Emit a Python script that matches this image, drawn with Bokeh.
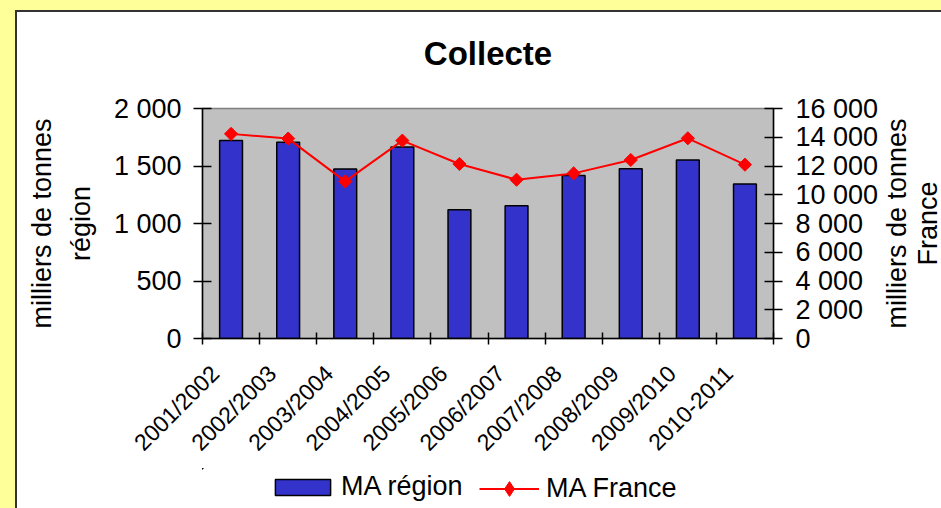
import numpy as np
from bokeh.plotting import figure
from bokeh.layouts import column, row
from bokeh.models import (Range1d, LinearAxis, FixedTicker, Legend, LegendItem,
                          Label, Title, GlobalInlineStyleSheet)
from bokeh.embed import file_html
from bokeh.resources import INLINE

# ---- data ----
seasons = ["2001/2002", "2002/2003", "2003/2004", "2004/2005", "2005/2006",
           "2006/2007", "2007/2008", "2008/2009", "2009/2010", "2010-2011"]
ma_region = [1721, 1706, 1474, 1666, 1119, 1154, 1418, 1477, 1553, 1343]
ma_france = [14235, 13907, 10927, 13767, 12142, 11046, 11486, 12420, 13928, 12093]
left_ticks = [0, 500, 1000, 1500, 2000]
left_tick_labels = ["0", "500", "1 000", "1 500", "2 000"]
right_ticks = [0, 2000, 4000, 6000, 8000, 10000, 12000, 14000, 16000]
right_tick_labels = ["0", "2 000", "4 000", "6 000", "8 000", "10 000",
                     "12 000", "14 000", "16 000"]

FONT = "Liberation Sans"
BAR_COLOR = "#3333CC"
LINE_COLOR = "#FF0000"

css = """
html {
  background:
    linear-gradient(to right, #FFFF99 15px, transparent 15px),
    linear-gradient(to bottom, #FFFF99 10px, transparent 10px),
    linear-gradient(to right, transparent 15px, #333333 15px, #333333 17px, transparent 17px),
    linear-gradient(to bottom, transparent 10px, #333333 10px, #333333 12px, #FFFFFF 12px);
  background-repeat: no-repeat;
  background-size: 100% 100%;
  min-height: 100%;
}
body { background: transparent; margin: 0; }
"""

TOP, BOTTOM = 108, 130          # border sizes of the main chart
FRAME_H = 230

p = figure(width=881, height=468,
           x_range=Range1d(0, len(seasons)), y_range=Range1d(0, 2000),
           output_backend="svg", toolbar_location=None,
           min_border_left=202, min_border_right=106,
           min_border_top=TOP, min_border_bottom=BOTTOM,
           background_fill_color="#C0C0C0", border_fill_color=None,
           outline_line_color="#808080", outline_line_width=1.5)
p.xgrid.visible = False
p.ygrid.visible = False
p.extra_y_ranges = {"fr": Range1d(0, 16000)}

p.title.text = "Collecte"
p.title.align = "center"
p.title.text_font = FONT
p.title.text_font_size = "33px"
p.title.text_font_style = "bold"
p.title.text_color = "black"
p.add_layout(Title(text=" ", text_font_size="18px"), "above")   # spacer under the title

xs = [i + 0.5 for i in range(len(seasons))]
bars = p.vbar(x=xs, top=ma_region, width=0.4, fill_color=BAR_COLOR,
              line_color="black", line_width=1.5)
line = p.line(xs, ma_france, y_range_name="fr", line_color=LINE_COLOR, line_width=2)
pts = p.scatter(xs, ma_france, y_range_name="fr", marker="square", angle=np.pi / 4,
                size=9.3, fill_color=LINE_COLOR, line_color=LINE_COLOR)

# x axis: boundary ticks as minor ticks, labels slightly left of the bar centres
label_pos = [x - 0.28 for x in xs]
xa = p.xaxis[0]
xa.ticker = FixedTicker(ticks=label_pos, minor_ticks=list(range(len(seasons) + 1)))
xa.major_label_overrides = {xv: s for xv, s in zip(label_pos, seasons)}
xa.major_tick_line_color = None
xa.major_tick_in = 0
xa.major_tick_out = 0
xa.minor_tick_in = 6
xa.minor_tick_out = 6
xa.minor_tick_line_color = "black"
xa.minor_tick_line_width = 1.5
xa.major_label_orientation = np.pi / 4
xa.major_label_standoff = 25
xa.axis_line_color = "black"
xa.axis_line_width = 1.5
xa.major_label_text_font = FONT
xa.major_label_text_font_size = "23px"
xa.major_label_text_color = "black"

# left axis
ya = p.yaxis[0]
ya.ticker = FixedTicker(ticks=left_ticks)
ya.major_label_overrides = {t: s for t, s in zip(left_ticks, left_tick_labels)}
ya.major_tick_in = 9
ya.major_tick_out = 9
ya.major_tick_line_color = "black"
ya.major_tick_line_width = 1.5
ya.minor_tick_line_color = None
ya.axis_line_color = "black"
ya.axis_line_width = 1.5
ya.major_label_standoff = 12
ya.major_label_text_font = FONT
ya.major_label_text_font_size = "27px"
ya.major_label_text_color = "black"
ya.axis_label = "milliers de tonnes\nrégion"
ya.axis_label_standoff = 15
ya.axis_label_text_font = FONT
ya.axis_label_text_font_size = "27px"
ya.axis_label_text_font_style = "normal"
ya.axis_label_text_color = "black"
ya.axis_label_text_line_height = 1.3

# right axis (its title is drawn in the narrow strip to the right)
ra = LinearAxis(y_range_name="fr", ticker=FixedTicker(ticks=right_ticks),
                major_label_overrides={t: s for t, s in zip(right_ticks, right_tick_labels)},
                major_tick_in=9, major_tick_out=9, major_tick_line_color="black",
                major_tick_line_width=1.5, minor_tick_line_color=None,
                axis_line_color="black", axis_line_width=1.5,
                major_label_standoff=13, major_label_text_font=FONT,
                major_label_text_font_size="27px", major_label_text_color="black")
p.add_layout(ra, "right")

# ---- strip holding the right axis title ----
RW = 60
rf = figure(width=RW, height=468, x_range=Range1d(0, RW), y_range=Range1d(0, FRAME_H),
            x_axis_type=None, y_axis_type=None, output_backend="svg",
            toolbar_location=None, min_border_left=0, min_border_right=0,
            min_border_top=TOP, min_border_bottom=BOTTOM,
            background_fill_color=None, border_fill_color=None, outline_line_color=None)
rf.xgrid.visible = False
rf.ygrid.visible = False
rf.title.visible = False
rf.add_layout(Label(x=0, y=FRAME_H / 2, text="milliers de tonnes\nFrance", angle=np.pi / 2,
                    text_font=FONT, text_font_size="27px", text_align="center",
                    text_baseline="top", text_line_height=1.04, text_color="black"))

# ---- legend strip (separate canvas under the chart) ----
lg = figure(width=941, height=40, x_range=Range1d(1e6, 1e6 + 1), y_range=Range1d(-2e6, -1e6),
            x_axis_type=None, y_axis_type=None, output_backend="svg",
            toolbar_location=None, min_border_left=202, min_border_right=166,
            min_border_top=0, min_border_bottom=0,
            background_fill_color=None, border_fill_color=None, outline_line_color=None)
lg.xgrid.visible = False
lg.ygrid.visible = False
lg.title.visible = False
lg_bars = lg.vbar(x=xs, top=ma_region, width=0.4, fill_color=BAR_COLOR,
                  line_color="black", line_width=1.5)
lg_line = lg.line(xs, ma_france, line_color=LINE_COLOR, line_width=2)
lg_pts = lg.scatter(xs, ma_france, marker="diamond", size=15,
                    fill_color=LINE_COLOR, line_color=LINE_COLOR)

leg1 = Legend(items=[LegendItem(label="MA région", renderers=[lg_bars])],
              location=(66, 6), orientation="horizontal",
              glyph_width=69, glyph_height=20, label_standoff=4,
              padding=0, margin=0, border_line_color=None, background_fill_alpha=0,
              label_text_font=FONT, label_text_font_size="27px", label_text_color="black")
leg2 = Legend(items=[LegendItem(label="MA France", renderers=[lg_line, lg_pts])],
              location=(277, 1), orientation="horizontal",
              glyph_width=60, glyph_height=37, label_standoff=7,
              padding=0, margin=0, border_line_color=None, background_fill_alpha=0,
              label_text_font=FONT, label_text_font_size="27px", label_text_color="black")
lg.add_layout(leg1)
lg.add_layout(leg2)

layout = column(row(p, rf, spacing=0), lg, spacing=0)
layout.stylesheets = [GlobalInlineStyleSheet(css=css)]

open("out.html", "w").write(file_html(layout, INLINE))
